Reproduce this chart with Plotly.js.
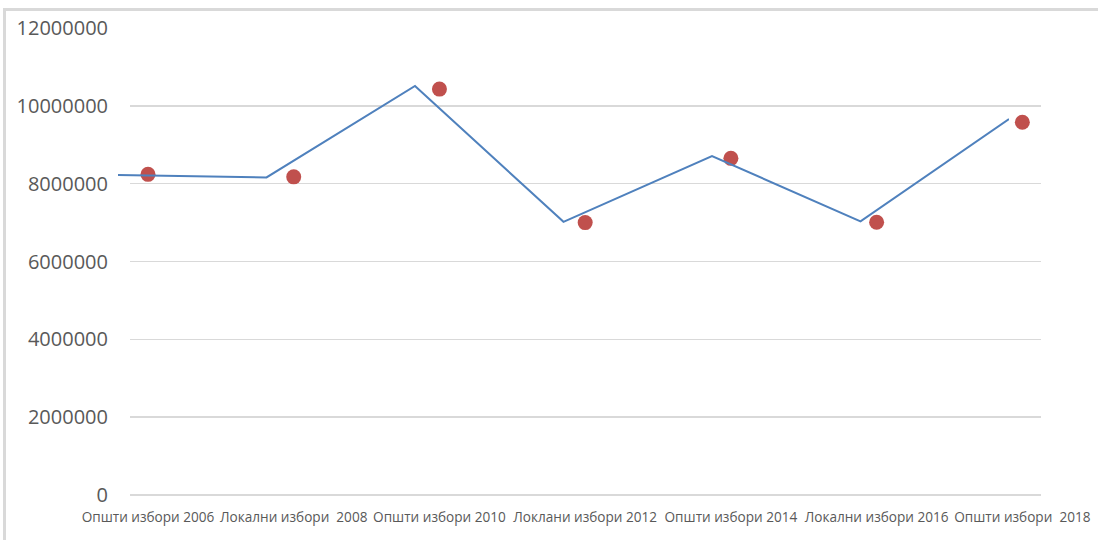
<!DOCTYPE html>
<html>
<head>
<meta charset="utf-8">
<script src="https://cdn.plot.ly/plotly-3.0.1.min.js"></script>
<style>
  html, body { margin: 0; padding: 0; background: #ffffff; }
  #frame { position: absolute; left: 3px; top: 8px; width: 1200px; height: 600px;
           border-top: 3px solid #d9d9d9; border-left: 3px solid #d9d9d9; }
  #chart { position: absolute; left: 0; top: 0; width: 1098px; height: 540px; }
</style>
</head>
<body>
<div id="frame"></div>
<div id="chart"></div>
<script>
// Categories (x tick labels)
const categories = [
  "Општи избори 2006",
  "Локални избори  2008",
  "Општи избори 2010",
  "Локлани избори 2012",
  "Општи избори 2014",
  "Локални избори 2016",
  "Општи избори  2018"
];
// Line series values
const lineValues = [8220000, 8160000, 10510000, 7020000, 8710000, 7030000, 9660000];
// Dot series values
const dotValues = [8240000, 8175000, 10430000, 7000000, 8650000, 7010000, 9580000];
// Y tick values
const yTicks = [0, 2000000, 4000000, 6000000, 8000000, 10000000, 12000000];

const grey = '#595959';

const traces = [
  {
    x: categories, y: lineValues, type: 'scatter', mode: 'lines',
    xaxis: 'x2', yaxis: 'y2',
    line: { color: '#4F81BD', width: 2 },
    hoverinfo: 'y'
  },
  {
    x: categories, y: dotValues, type: 'scatter', mode: 'markers',
    xaxis: 'x', yaxis: 'y',
    marker: { color: '#C0504D', size: 15 },
    cliponaxis: false,
    hoverinfo: 'y'
  }
];

const layout = {
  width: 1098, height: 540,
  margin: { l: 118, r: 57, t: 28, b: 45, pad: 0 },
  paper_bgcolor: 'rgba(0,0,0,0)',
  plot_bgcolor: 'rgba(0,0,0,0)',
  showlegend: false,
  font: { family: '"Open Sans", sans-serif', color: grey },
  xaxis: {
    type: 'category',
    domain: [12 / 923, 1],
    range: [-0.1235, 6.128],
    anchor: 'y',
    showgrid: false, showline: false, zeroline: false,
    ticks: '',
    tickangle: 0,
    tickfont: { size: 13.6, color: grey, family: '"Open Sans", sans-serif' },
    ticklabelstandoff: 12
  },
  yaxis: {
    range: [0, 12000000],
    anchor: 'x',
    tickvals: yTicks,
    ticktext: yTicks.map(String),
    showgrid: true, gridcolor: '#d9d9d9', gridwidth: 1.5,
    zeroline: true, zerolinecolor: '#d9d9d9', zerolinewidth: 1.5,
    showline: false, ticks: '',
    tickfont: { size: 20, color: grey, family: '"Open Sans", sans-serif' },
    ticklabelstandoff: 21
  },
  xaxis2: {
    type: 'category',
    domain: [0, 891 / 923],
    range: [0, 6],
    anchor: 'y2',
    visible: false
  },
  yaxis2: {
    range: [0, 12000000],
    domain: [0, 1],
    anchor: 'x2',
    visible: false
  }
};

Plotly.newPlot('chart', traces, layout, { displayModeBar: false, staticPlot: true });
</script>
</body>
</html>
